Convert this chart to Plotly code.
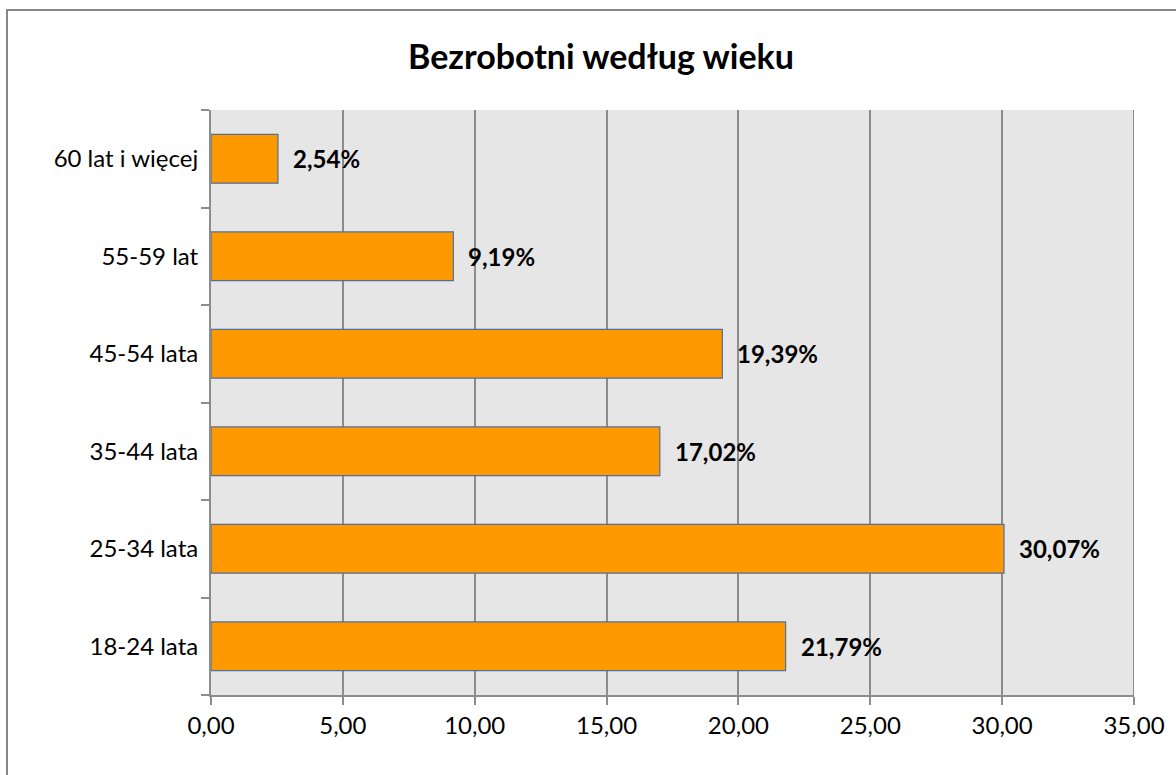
import plotly.graph_objects as go

categories = ["18-24 lata", "25-34 lata", "35-44 lata", "45-54 lata", "55-59 lat", "60 lat i więcej"]
values = [21.79, 30.07, 17.02, 19.39, 9.19, 2.54]
x_ticks = [0, 5, 10, 15, 20, 25, 30, 35]
title_text = "Bezrobotni według wieku"

FONT = "Lato"
TICK_SIZE = 24
GRID = "#8C8C8C"

fig = go.Figure()
fig.add_trace(go.Bar(
    x=values, y=categories, orientation="h",
    marker=dict(color="#FF9900", line=dict(color="#4F6F9F", width=1.2)),
    width=0.5,
    hoverinfo="skip",
))

for c, v in zip(categories, values):
    fig.add_annotation(
        x=v, y=c, xref="x", yref="y",
        text="<b>" + f"{v:.2f}".replace(".", ",") + "%</b>",
        showarrow=False, xanchor="left", yanchor="middle", xshift=13,
        font=dict(family=FONT, size=TICK_SIZE, color="black"),
    )

fig.update_layout(
    width=1176, height=775,
    margin=dict(l=211, r=42, t=110, b=80),
    paper_bgcolor="white",
    plot_bgcolor="#E6E6E6",
    showlegend=False,
    separators=",.",
    title=dict(text="<b>" + title_text + "</b>", x=601 / 1176, xanchor="center",
               y=1 - 57 / 775, yanchor="middle", xref="container", yref="container",
               font=dict(family=FONT, size=34, color="black")),
    font=dict(family=FONT, size=TICK_SIZE, color="black"),
    bargap=0.5,
)
fig.update_xaxes(
    range=[0, 35], tickvals=x_ticks, tickformat=".2f",
    showgrid=True, gridcolor=GRID, gridwidth=2,
    showline=True, linecolor=GRID, linewidth=2,
    ticks="outside", ticklen=8, tickcolor=GRID, tickwidth=2,
    zeroline=False,
    tickfont=dict(family=FONT, size=TICK_SIZE, color="black"),
    ticklabelstandoff=0,
)
fig.update_yaxes(
    type="category", categoryorder="array", categoryarray=categories,
    tickson="boundaries", showgrid=False,
    showline=True, linecolor=GRID, linewidth=2,
    ticks="outside", ticklen=8, tickcolor=GRID, tickwidth=2,
    tickfont=dict(family=FONT, size=TICK_SIZE, color="black"),
    ticklabelstandoff=6,
)
# outer chart border
fig.add_shape(type="rect", xref="paper", yref="paper",
              x0=(7 - 211) / 923, x1=(1230 - 211) / 923,
              y0=-(820 - 695) / 585, y1=1 + (110 - 10) / 585,
              line=dict(color="#868686", width=2), fillcolor="rgba(0,0,0,0)", layer="below")
# right plot border
fig.add_shape(type="line", xref="x", yref="paper", x0=35, x1=35, y0=0, y1=1,
              line=dict(color=GRID, width=2))

fig.write_html("out.html", config={"displayModeBar": False},
               post_script="document.body.style.margin='0';document.body.style.overflow='hidden';")
